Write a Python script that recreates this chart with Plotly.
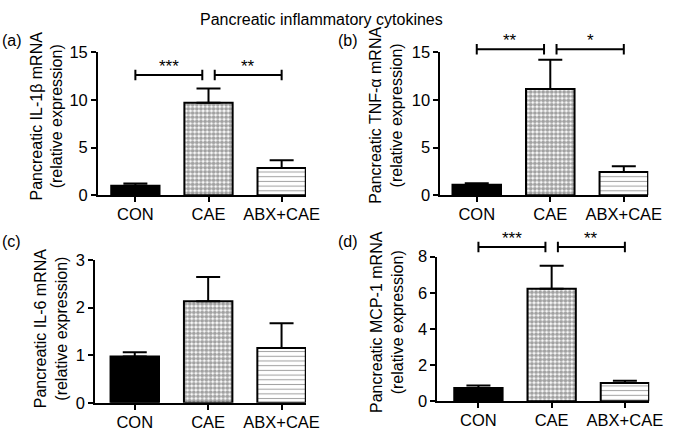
import plotly.graph_objects as go

# group labels
categories = ["CON", "CAE", "ABX+CAE"]

# mean and upper error (SEM) per panel
il1b_mean = [1.0, 9.7, 2.87]
il1b_sem = [0.24, 1.5, 0.81]
tnfa_mean = [1.1, 11.15, 2.45]
tnfa_sem = [0.17, 3.05, 0.6]
il6_mean = [0.97, 2.13, 1.15]
il6_sem = [0.09, 0.51, 0.52]
mcp1_mean = [0.73, 6.23, 1.01]
mcp1_sem = [0.14, 1.27, 0.12]

y_titles = ["Pancreatic IL-1β mRNA", "Pancreatic TNF-α mRNA",
            "Pancreatic IL-6 mRNA", "Pancreatic MCP-1 mRNA"]
y_max = [15, 15, 3, 8]
y_dtick = [5, 5, 1, 2]
panel_letters = ["(a)", "(b)", "(c)", "(d)"]

# significance brackets: height (data units) and stars for CON-CAE, CAE-ABX+CAE
sig_levels = [12.6, 15.3, None, 8.53]
sig_labels = [["***", "**"], ["**", "*"], None, ["***", "**"]]

means = [il1b_mean, tnfa_mean, il6_mean, mcp1_mean]
sems = [il1b_sem, tnfa_sem, il6_sem, mcp1_sem]

W, H = 676, 437
FONT = "Liberation Sans, Arial, Helvetica, sans-serif"

# panel boxes in pixels: left, right, top, bottom, x-range left end
boxes = [
    (100, 312, 45, 194.3, -0.51),
    (449, 661, 45, 194.3, -0.495),
    (97, 312, 261.7, 410.7, -0.54),
    (446, 662, 258.3, 409, -0.56),
]
title_pos = [(48, 112), (394, 111), (52, 334), (394, 326)]
letter_pos = [(0, 33), (343, 33), (0, 243), (343, 243)]


def px(x):
    return x / W


def py(y):
    return 1 - y / H


fig = go.Figure()
layout = {}
shapes = []
annotations = []

for i in range(4):
    n = "" if i == 0 else str(i + 1)
    xa, ya = "x" + n, "y" + n
    left, right, top, bottom, xlo = boxes[i]

    fig.add_trace(go.Bar(
        x=list(range(len(categories))),
        y=means[i],
        xaxis=xa, yaxis=ya,
        width=0.66,
        marker=dict(
            color=["black", "white", "white"],
            line=dict(color="black", width=2),
            pattern=dict(
                shape=["", ".", "-"],
                fgcolor=["black", "black", "#666666"],
                bgcolor=["black", "white", "white"],
                size=[4, 4.2, 4.7],
                solidity=[0.3, 0.68, 0.22],
            ),
        ),
        error_y=dict(type="data", symmetric=False, array=sems[i],
                     arrayminus=[0] * len(categories),
                     color="black", thickness=2, width=12),
        showlegend=False,
    ))

    layout["xaxis" + n] = dict(
        domain=[px(left), px(right)], anchor=ya,
        range=[xlo, 2.333],
        tickvals=list(range(len(categories))), ticktext=categories,
        showline=True, linecolor="black", linewidth=2,
        ticks="outside", ticklen=5, tickwidth=2, tickcolor="black",
        ticklabelstandoff=-2,
        showgrid=False, zeroline=False,
        tickfont=dict(size=16.5, color="black", family=FONT),
    )
    layout["yaxis" + n] = dict(
        domain=[py(bottom), py(top)], anchor=xa,
        range=[0, y_max[i]], dtick=y_dtick[i], tick0=0,
        showline=True, linecolor="black", linewidth=2,
        ticks="outside", ticklen=5, tickwidth=2, tickcolor="black",
        showgrid=False, zeroline=False,
        tickfont=dict(size=16.5, color="black", family=FONT),
    )

    tx, ty = title_pos[i]
    annotations.append(dict(
        text=y_titles[i] + "<br>(relative expression)",
        x=px(tx), y=py(ty), xref="paper", yref="paper",
        textangle=-90, showarrow=False,
        xanchor="center", yanchor="middle",
        font=dict(size=16, color="black", family=FONT),
    ))
    lx, ly = letter_pos[i]
    annotations.append(dict(
        text=panel_letters[i], x=px(lx), y=py(ly),
        xref="paper", yref="paper", showarrow=False,
        xanchor="left", yanchor="middle",
        font=dict(size=16, color="black", family=FONT),
    ))

    if sig_levels[i] is not None:
        lev = sig_levels[i] / y_max[i]
        cap = 5.5 / (bottom - top)
        gap = 0.085
        for (x0, x1), star in zip([(0, 1 - gap), (1 + gap, 2)], sig_labels[i]):
            path = (f"M {x0},{lev - cap} L {x0},{lev + cap} "
                    f"M {x0},{lev} L {x1},{lev} "
                    f"M {x1},{lev - cap} L {x1},{lev + cap}")
            shapes.append(dict(type="path", path=path, xref=xa,
                               yref=ya + " domain",
                               line=dict(color="black", width=2)))
            annotations.append(dict(
                text=star, x=(x0 + x1) / 2, y=lev,
                xref=xa, yref=ya + " domain", showarrow=False,
                xanchor="center", yanchor="bottom", yshift=-3,
                font=dict(size=17, color="black", family=FONT),
            ))

annotations.append(dict(
    text="Pancreatic inflammatory cytokines",
    x=px(328), y=py(11), xref="paper", yref="paper", showarrow=False,
    xanchor="center", yanchor="middle",
    font=dict(size=16, color="black", family=FONT),
))

fig.update_layout(
    width=W, height=H,
    margin=dict(l=0, r=0, t=0, b=0),
    paper_bgcolor="white", plot_bgcolor="white",
    shapes=shapes, annotations=annotations,
    **layout,
)

fig.write_html("out.html", config={"displayModeBar": False},
               post_script="document.body.style.margin = '0';")
